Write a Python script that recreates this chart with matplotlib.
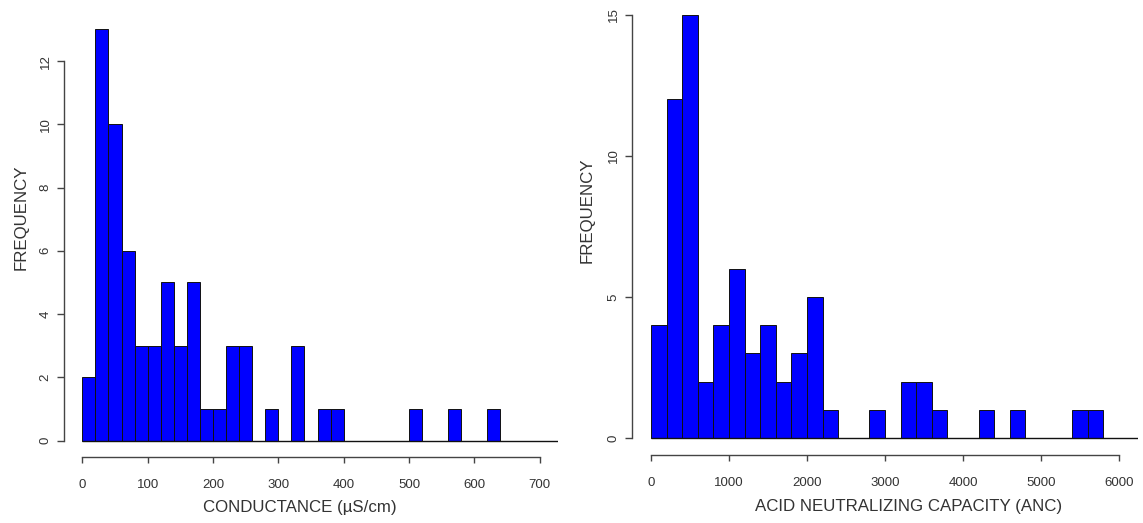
#!/usr/bin/env python3
"""
Histograms of stream conductance and acid neutralizing capacity (R base-graphics look)
"""

import numpy as np
import matplotlib
matplotlib.use("Agg")
import matplotlib.pyplot as plt

# Conductance histogram: bins of 20 uS/cm starting at 0
cond_bin_start = 0
cond_bin_width = 20
cond_counts = [2, 13, 10, 6, 3, 3, 5, 3, 5, 1, 1, 3, 3, 0, 1, 0,
               3, 0, 1, 1, 0, 0, 0, 0, 0, 1, 0, 0, 1, 0, 0, 1]
cond_xticks = [0, 100, 200, 300, 400, 500, 600, 700]
cond_yticks = [0, 2, 4, 6, 8, 10, 12]

# ANC histogram: bins of 200 starting at 0
anc_bin_start = 0
anc_bin_width = 200
anc_counts = [4, 12, 15, 2, 4, 6, 3, 4, 2, 3, 5, 1, 0, 0, 1, 0,
              2, 2, 1, 0, 0, 1, 0, 1, 0, 0, 0, 1, 1]
anc_xticks = [0, 1000, 2000, 3000, 4000, 5000, 6000]
anc_yticks = [0, 5, 10, 15]

W, H = 1143, 523
TXT = "#333333"
LINE = "#444444"

plt.rcParams['font.family'] = ['Liberation Sans', 'DejaVu Sans']

fig = plt.figure(figsize=(W / 100, H / 100), dpi=100)
fig.patch.set_facecolor("white")


def px_axes(left, top, right, bottom):
    """Add axes given pixel box of the plot region"""
    return fig.add_axes([left / W, 1 - bottom / H, (right - left) / W, (bottom - top) / H])


def r_hist(ax, start, width, counts, xticks, yticks, xlabel, xlab_pos, ylab_pos):
    counts = np.asarray(counts)
    edges = start + width * np.arange(len(counts))
    ax.bar(edges, counts, width=width, align="edge", color="#0000ff",
           edgecolor="#111111", linewidth=0.7, zorder=2)

    # R style extended range (4% each side)
    xr = xticks[-1] - xticks[0]
    ax.set_xlim(xticks[0] - 0.04 * xr, xticks[-1] + 0.04 * xr)
    ytop = max(counts)
    ax.set_ylim(-0.04 * ytop, ytop * 1.04)

    # baseline under bars
    ax.plot([start, ax.get_xlim()[1]], [0, 0], color="#111111", lw=1.0, zorder=3,
            solid_capstyle="butt")

    for s in ["top", "right"]:
        ax.spines[s].set_visible(False)
    for s in ["left", "bottom"]:
        ax.spines[s].set_color(LINE)
        ax.spines[s].set_linewidth(1.0)
    ax.spines["bottom"].set_bounds(xticks[0], xticks[-1])
    ax.spines["left"].set_bounds(yticks[0], yticks[-1])

    ax.set_xticks(xticks)
    ax.set_yticks(yticks)
    ax.set_xticklabels([str(t) for t in xticks])
    ax.set_yticklabels([str(t) for t in yticks], rotation=90, va="center")
    ax.tick_params(axis="x", length=4, width=1.0, color=LINE, labelsize=9.5,
                   labelcolor=TXT, pad=12)
    ax.tick_params(axis="y", length=5, width=1.0, color=LINE, labelsize=9.5,
                   labelcolor=TXT, pad=4)
    ax.set_facecolor("none")

    ax.set_xlabel(xlabel, fontsize=12.2, color=TXT)
    ax.xaxis.set_label_coords(*xlab_pos)
    ax.set_ylabel("FREQUENCY", fontsize=12.2, color=TXT)
    ax.yaxis.set_label_coords(*ylab_pos)


ax1 = px_axes(64, 13, 558, 457)
r_hist(ax1, cond_bin_start, cond_bin_width, cond_counts, cond_xticks, cond_yticks,
       "CONDUCTANCE (\u00b5S/cm)", (0.478, -0.096), (-0.072, 0.54))

ax2 = px_axes(632.3, -2.2, 1137.7, 455)
r_hist(ax2, anc_bin_start, anc_bin_width, anc_counts, anc_xticks, anc_yticks,
       "ACID NEUTRALIZING CAPACITY (ANC)", (0.547, -0.097), (-0.075, 0.535))

plt.savefig("out.png", dpi=100, facecolor="white")
plt.close()
